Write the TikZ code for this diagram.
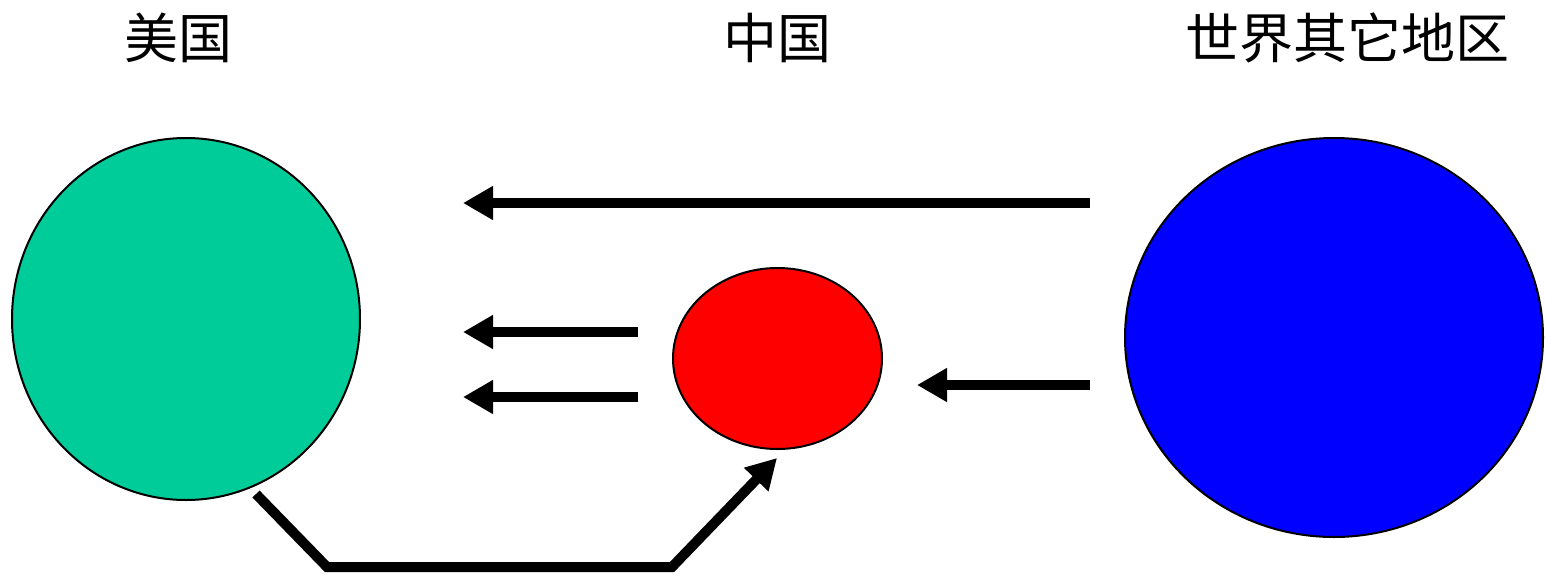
\documentclass[tikz,border=0pt]{standalone}
\usepackage{fontspec}
\newfontfamily\cjk{Noto Sans CJK SC}
\usetikzlibrary{shapes.geometric,arrows.meta}
\definecolor{usgreen}{HTML}{00CC99}
\definecolor{cnred}{HTML}{FF0000}
\definecolor{rowblue}{HTML}{0000FF}
\tikzset{
  region/.style={ellipse, draw=black, line width=2pt, inner sep=0pt},
  label/.style={font=\cjk\fontsize{54}{64}\selectfont, inner sep=0pt, anchor=center},
  flow/.style={line width=10pt, -{Triangle[length=30pt,width=32pt]}}
}
\begin{document}
\begin{tikzpicture}[x=1pt,y=-1pt]
  \useasboundingbox (0,0) rectangle (1545,574);
  % titles
  \node[label] (tus) at (178,38) {美国};
  \node[label] (tcn) at (777,38) {中国};
  \node[label] (trow) at (1347,38) {世界其它地区};
  % regions
  \node[region, fill=usgreen, minimum width=348pt, minimum height=362pt] (us) at (186,319) {};
  \node[region, fill=cnred, minimum width=209pt, minimum height=181pt] (cn) at (777.5,358.5) {};
  \node[region, fill=rowblue, minimum width=418pt, minimum height=399pt] (row) at (1334,337.5) {};
  % arrow end points
  \coordinate (a1s) at (1090,203);
  \coordinate (a1e) at (463,203);
  \coordinate (a2s) at (638,332);
  \coordinate (a2e) at (463,332);
  \coordinate (a3s) at (638,397);
  \coordinate (a3e) at (463,397);
  \coordinate (a4s) at (1090,385);
  \coordinate (a4e) at (917,385);
  \coordinate (b0) at (256,494);
  \coordinate (b1) at (327,567);
  \coordinate (b2) at (672,567);
  \coordinate (b3) at (777,458);
  % flows
  \draw[flow] (a1s) -- (a1e);
  \draw[flow] (a2s) -- (a2e);
  \draw[flow] (a3s) -- (a3e);
  \draw[flow] (a4s) -- (a4e);
  \draw[flow, line join=miter] (b0) -- (b1) -- (b2) -- (b3);
\end{tikzpicture}
\end{document}
